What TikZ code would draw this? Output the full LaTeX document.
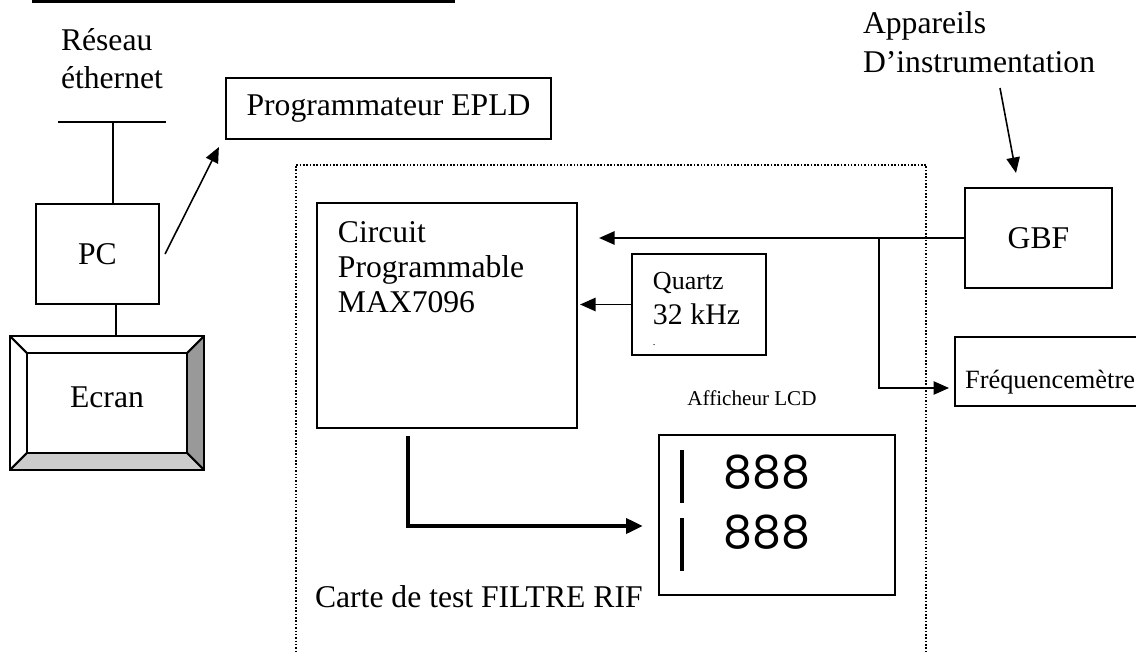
\documentclass[tikz,border=0pt]{standalone}
\usepackage{fontspec}
\setmainfont{Liberation Serif}
\newfontfamily\lcdfont{Poppins}
\usepackage{tikz}
\usetikzlibrary{arrows.meta,positioning,backgrounds,calc}
\definecolor{bevDark}{HTML}{999999}
\definecolor{bevLight}{HTML}{CCCCCC}
\newcommand{\txtnorm}{\fontsize{9pt}{10.8pt}\selectfont}
\newcommand{\txtsmall}{\fontsize{7.5pt}{10pt}\selectfont}
\tikzset{
  blk/.style={rectangle,draw,line width=0.55pt,inner sep=0pt,outer sep=0pt,
    align=center,font=\txtnorm},
  txt/.style={inner sep=0pt,outer sep=0pt,align=left,font=\txtnorm},
  cardbox/.style={rectangle,draw,line width=0.45pt,
    dash pattern=on 0.45pt off 0.5pt,inner sep=0pt,outer sep=0pt},
  arr/.style={-{Triangle[length=4.4pt,width=3.8pt]},line width=0.45pt},
  arrb/.style={-{Triangle[length=4.8pt,width=4.2pt]},line width=1.2pt},
  wire/.style={line width=0.45pt},
}

\begin{document}
\begin{tikzpicture}[x=0.01cm,y=-0.01cm]
  \useasboundingbox (0,0) rectangle (1136,652);
  \clip (0,0) rectangle (1136,652);
  \draw[line width=0.95pt] (32,1.5) -- (455,1.5);

  \node[txt,anchor=north west] (reseau) at (61,28.5) {Réseau\\éthernet};
  \coordinate (busl) at (58,122);
  \coordinate (busr) at (166,122);
  \coordinate (bus) at (113,122);
  \draw[wire] (busl) -- (busr);
  \node[blk,minimum width=1.23cm,minimum height=1cm] (pc) at (97.5,254) {PC};
  \draw[wire] (bus) -- (bus |- pc.north);

  \node[blk,line width=0.6pt,minimum width=1.94cm,minimum height=1.34cm]
    (ecranframe) at (107,403) {};
  \node[blk,fill=white,line width=0.6pt,minimum width=1.6cm,minimum height=1cm,
    text depth=3.6pt] (ecran) at (ecranframe.center) {Ecran};
  \begin{scope}[on background layer]
    \fill[bevDark] (ecranframe.north east) -- (ecranframe.south east)
      -- (ecran.south east) -- (ecran.north east) -- cycle;
    \fill[bevLight] (ecranframe.south west) -- (ecranframe.south east)
      -- (ecran.south east) -- (ecran.south west) -- cycle;
  \end{scope}
  \foreach \c in {north west,north east,south west,south east}
    \draw[line width=0.6pt] (ecranframe.\c) -- (ecran.\c);
  \coordinate (pcout) at ([xshift=0.185cm]pc.south);
  \draw[wire] (pcout) -- (pcout |- ecranframe.north);

  \node[blk,minimum width=3.25cm,minimum height=0.61cm] (prog) at (388.5,108.5)
    {Programmateur EPLD};
  \draw[arr] ([xshift=0.06cm]pc.east) -- ([shift={(-7,8)}]prog.south west);

  \node[cardbox,minimum width=6.3cm,minimum height=5.35cm] (carte) at (611,432.5) {};
  \node[txt,anchor=base west] (cartetxt) at (315,608) {Carte de test FILTRE RIF};

  \node[blk,minimum width=2.6cm,minimum height=2.25cm] (circ) at (447,315.5) {};
  \node[txt,anchor=north west,font=\fontsize{9pt}{10pt}\selectfont] (circtxt)
    at ([shift={(21,18.5)}]circ.north west) {Circuit\\Programmable\\MAX7096};

  \node[blk,minimum width=1.34cm,minimum height=1.01cm] (quartz) at (699,304.5) {};
  \node[txt,anchor=north west,font=\fontsize{7.4pt}{10pt}\selectfont] (quartztxt)
    at ([shift={(21,18)}]quartz.north west)
    {Quartz\\{\fontsize{8.5pt}{10pt}\selectfont 32 kHz}\\[-4pt]{\fontsize{3pt}{3pt}\selectfont .}};
  \draw[arr,shorten >=0.03cm] (quartz.west) -- (quartz.west -| circ.east);

  \node[txt,anchor=north west,font=\fontsize{9pt}{11pt}\selectfont] (app)
    at (863,11.5) {Appareils\\D’instrumentation};
  \node[blk,minimum width=1.47cm,minimum height=1cm] (gbf) at (1038.5,238) {GBF};
  \coordinate (appout) at (1000,88);
  \draw[arr] (appout) -- ([shift={(-22.5,-15)}]gbf.north);

  \node[blk,font=\txtsmall,minimum width=1.9cm,minimum height=0.69cm,
    text height=9.4pt,text depth=0pt,anchor=west] (freq) at (955,371.5)
    {Fréquencemètre};
  \draw[arr,shorten >=0.22cm] (gbf.west) -- (gbf.west -| circ.east);
  \draw[arr,shorten >=0.06cm] ([xshift=-0.86cm]gbf.west) |- ([yshift=-0.165cm]freq.west);

  \node[txt,font=\fontsize{6pt}{7pt}\selectfont,anchor=base] (afftxt) at (752,406)
    {Afficheur LCD};
  \node[blk,minimum width=2.36cm,minimum height=1.6cm] (lcd) at (777,515) {};
  \node[inner sep=0pt,align=center,font=\lcdfont\fontsize{13pt}{17pt}\selectfont]
    (digits) at ([shift={(-10,-12.5)}]lcd.center) {888\\888};
  \foreach \dy in {15,83}
    \draw[line width=1.15pt] ([shift={(23,\dy)}]lcd.north west) -- ++(0,53);
  \draw[arrb,shorten >=0.16cm] ([shift={(-39,8)}]circ.south) |- ([yshift=-0.11cm]lcd.west);
\end{tikzpicture}
\end{document}
